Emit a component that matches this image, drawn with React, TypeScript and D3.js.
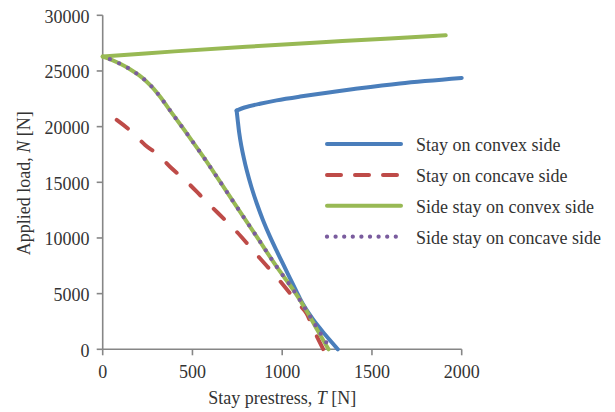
import React from "react";
import * as d3 from "d3";

type P = [number, number];

const xTicks = [0, 500, 1000, 1500, 2000];
const yTicks = [0, 5000, 10000, 15000, 20000, 25000, 30000];

// Stay on convex side (two branches meeting at the corner)
const stayConvexUpper: P[] = [
  [746, 21440], [790, 21720], [876, 22060], [969, 22360], [1100, 22700],
  [1250, 23050], [1400, 23380], [1656, 23880], [2000, 24370],
];
const stayConvexLower: P[] = [
  [746, 21440], [752, 20600], [760, 19500], [772, 18300], [786, 17200],
  [802, 16100], [828, 14600], [858, 13120], [893, 11600], [932, 10120],
  [968, 8880], [1008, 7550], [1043, 6400], [1078, 5250], [1112, 4150],
  [1173, 2650], [1240, 1300], [1310, 0],
];
// Stay on concave side
const stayConcave: P[] = [
  [78, 20600], [161, 19550], [236, 18360], [310, 17460], [384, 16260],
  [458, 15210], [542, 13860], [597, 12960], [681, 11620], [746, 10570],
  [820, 9220], [876, 8180], [950, 6830], [1006, 5780], [1081, 4280],
  [1136, 3230], [1160, 2300], [1183, 1500], [1229, 0],
];
// Side stay on convex side (two branches from the same start)
const sideConvexUpper: P[] = [
  [0, 26300], [400, 26760], [800, 27170], [1200, 27560], [1600, 27920],
  [1911, 28200],
];
const sideConvexLower: P[] = [
  [0, 26300], [50, 26000], [100, 25620], [152, 25160], [200, 24640],
  [245, 24040], [283, 23420], [319, 22700], [393, 21050], [468, 19400],
  [560, 17300], [635, 15510], [746, 12810], [858, 10120], [969, 7420],
  [1062, 5330], [1127, 3680], [1190, 1900], [1258, 0],
];
// Side stay on concave side
const sideConcave: P[] = [
  [40, 26060], [100, 25620], [152, 25160], [200, 24640], [245, 24040],
  [283, 23420], [319, 22700], [393, 21050], [468, 19400], [560, 17300],
  [635, 15510], [746, 12810], [858, 10120], [969, 7420], [1062, 5330],
  [1127, 3680], [1195, 1900], [1270, 0],
];

const legendLabels = [
  "Stay on convex side",
  "Stay on concave side",
  "Side stay on convex side",
  "Side stay on concave side",
];

const BLUE = "#4A7EBB";
const RED = "#BE4B48";
const GREEN = "#98B954";
const PURPLE = "#7A5C9E";
const AXIS = "#868686";
const TEXT = "#333333";
const FONT = "'Liberation Serif', 'DejaVu Serif', serif";
const FS = 18;

export default function App() {
  const x = d3.scaleLinear().domain([0, 2000]).range([102.7, 461.7]);
  const y = d3.scaleLinear().domain([0, 30000]).range([349.3, 15.3]);
  const line = d3
    .line<P>()
    .x((d) => x(d[0]))
    .y((d) => y(d[1]))
    .curve(d3.curveCatmullRom.alpha(0.5));

  const legendStyles = [
    { stroke: BLUE, dash: undefined as string | undefined, width: 4 },
    { stroke: RED, dash: "14 14", width: 4 },
    { stroke: GREEN, dash: undefined, width: 4 },
    { stroke: PURPLE, dash: "0 8.6", width: 4.3 },
  ];

  return (
    <svg
      width={615}
      height={412}
      style={{ position: "absolute", left: 0, top: 0, background: "#fff" }}
      fontFamily={FONT}
    >
      {/* axes */}
      <line x1={x(0)} x2={x(0)} y1={y(30000)} y2={y(0)} stroke={AXIS} strokeWidth={1.6} />
      <line x1={x(0)} x2={x(2000)} y1={y(0)} y2={y(0)} stroke={AXIS} strokeWidth={1.6} />
      {yTicks.map((t) => (
        <g key={"y" + t}>
          <line x1={x(0) - 6} x2={x(0)} y1={y(t)} y2={y(t)} stroke={AXIS} strokeWidth={1.6} />
          <text
            x={89.5}
            y={y(t) + 1.5}
            textAnchor="end"
            dominantBaseline="central"
            fontSize={FS}
            fill={TEXT}
          >
            {t}
          </text>
        </g>
      ))}
      {xTicks.map((t) => (
        <g key={"x" + t}>
          <line x1={x(t)} x2={x(t)} y1={y(0)} y2={y(0) + 6} stroke={AXIS} strokeWidth={1.6} />
          <text x={x(t)} y={377.5} textAnchor="middle" fontSize={FS} fill={TEXT}>
            {t}
          </text>
        </g>
      ))}
      <text x={x(1000)} y={403.5} textAnchor="middle" fontSize={FS} fill={TEXT}>
        Stay prestress, <tspan fontStyle="italic">T</tspan> [N]
      </text>
      <text
        transform={`translate(30,${y(15000) + 1}) rotate(-90)`}
        textAnchor="middle"
        fontSize={FS}
        fill={TEXT}
      >
        Applied load, <tspan fontStyle="italic">N</tspan> [N]
      </text>

      {/* series */}
      <g fill="none" strokeLinecap="round" strokeLinejoin="round">
        <path d={line(stayConvexUpper) ?? ""} stroke={BLUE} strokeWidth={4} />
        <path d={line(stayConvexLower) ?? ""} stroke={BLUE} strokeWidth={4} />
        <path d={line(stayConcave) ?? ""} stroke={RED} strokeWidth={4} strokeDasharray="14 19" />
        <path d={line(sideConvexUpper) ?? ""} stroke={GREEN} strokeWidth={4} />
        <path d={line(sideConvexLower) ?? ""} stroke={GREEN} strokeWidth={4} />
        <path d={line(sideConcave) ?? ""} stroke={PURPLE} strokeWidth={4.3} strokeDasharray="0 10" />
      </g>

      {/* legend */}
      {legendLabels.map((lab, i) => {
        const ly = 144 + i * 30.9;
        const s = legendStyles[i];
        return (
          <g key={lab}>
            <line
              x1={327}
              x2={401}
              y1={ly}
              y2={ly}
              stroke={s.stroke}
              strokeWidth={s.width}
              strokeDasharray={s.dash}
              strokeLinecap="round"
            />
            <text x={416} y={ly + 1} dominantBaseline="central" fontSize={FS} fill={TEXT}>
              {lab}
            </text>
          </g>
        );
      })}
    </svg>
  );
}
